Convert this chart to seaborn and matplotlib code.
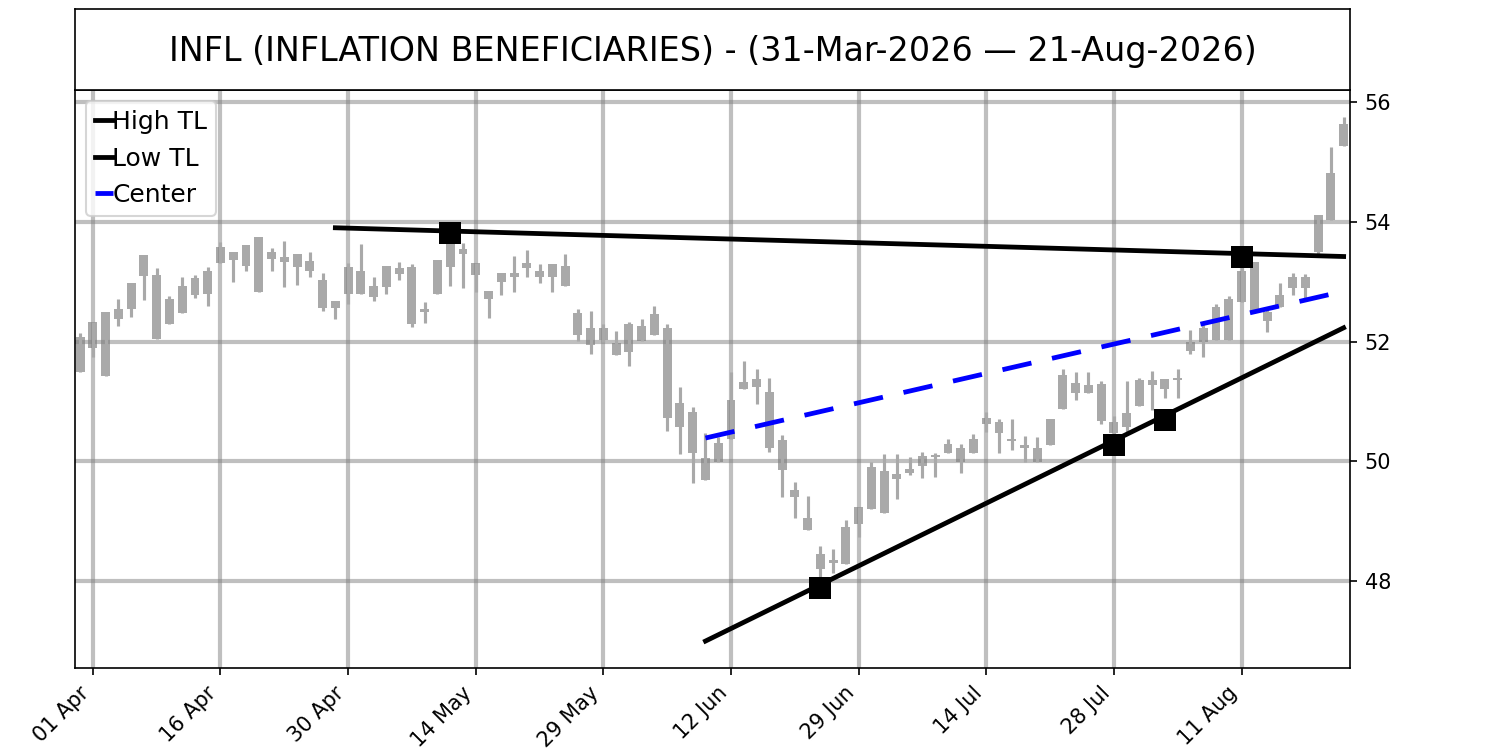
import matplotlib
matplotlib.use("Agg")
import matplotlib.pyplot as plt
import seaborn as sns
import pandas as pd

# trading days 31-Mar-2026 .. 21-Aug-2026 (NYSE holidays skipped)
holidays = ["2026-04-03", "2026-05-25", "2026-06-19", "2026-07-03"]
dates = pd.bdate_range("2026-03-31", "2026-08-21", freq="C", holidays=holidays)

# candles (up and down candles share one colour,
# so only the body top / bottom are kept)
highs = [52.14, 52.32, 52.50, 52.71, 52.97, 53.44, 53.22, 52.76, 53.07, 53.11,
         53.24, 53.67, 53.49, 53.62, 53.74, 53.57, 53.68, 53.46, 53.49, 53.14,
         52.68, 53.32, 53.63, 53.07, 53.26, 53.33, 53.29, 52.66, 53.36, 53.85,
         53.64, 53.32, 52.84, 53.15, 53.43, 53.53, 53.29, 53.29, 53.47, 52.55,
         52.51, 52.29, 52.18, 52.33, 52.37, 52.59, 52.30, 51.24, 50.90, 50.48,
         50.41, 51.50, 51.67, 51.54, 51.39, 50.44, 49.66, 49.42, 48.58, 48.53,
         49.02, 49.24, 49.99, 50.13, 50.13, 50.08, 50.15, 50.14, 50.38, 50.29,
         50.46, 50.83, 50.70, 50.70, 50.42, 50.40, 50.70, 51.54, 51.50, 51.50,
         51.34, 50.76, 51.34, 51.39, 51.51, 51.37, 51.55, 52.19, 52.30, 52.62,
         52.76, 53.45, 53.33, 52.53, 52.97, 53.14, 53.12, 54.11, 55.25, 55.75]
body_top = [52.07, 52.32, 52.50, 52.55, 52.97, 53.44, 53.11, 52.71, 52.93, 53.06,
            53.17, 53.58, 53.49, 53.62, 53.74, 53.49, 53.42, 53.46, 53.34, 53.03,
            52.68, 53.25, 53.17, 52.92, 53.26, 53.22, 53.25, 52.55, 53.36, 53.64,
            53.55, 53.32, 52.84, 53.15, 53.15, 53.32, 53.17, 53.29, 53.26, 52.48,
            52.23, 52.23, 51.97, 52.30, 52.26, 52.46, 52.22, 50.97, 50.82, 50.05,
            50.31, 51.02, 51.33, 51.38, 51.16, 50.35, 49.52, 49.05, 48.46, 48.35,
            48.91, 49.24, 49.90, 49.84, 49.79, 49.88, 50.09, 50.10, 50.29, 50.22,
            50.38, 50.72, 50.66, 50.38, 50.27, 50.22, 50.70, 51.44, 51.31, 51.27,
            51.29, 50.66, 50.81, 51.36, 51.36, 51.37, 51.40, 52.00, 52.23, 52.58,
            52.71, 53.17, 53.33, 52.49, 52.77, 53.08, 53.08, 54.11, 54.81, 55.64]
body_bottom = [51.50, 51.89, 51.43, 52.37, 52.54, 53.10, 52.05, 52.30, 52.47, 52.78,
               52.79, 53.32, 53.37, 53.27, 52.83, 53.38, 53.33, 53.25, 53.17, 52.56,
               52.56, 52.79, 52.80, 52.75, 52.91, 53.12, 52.29, 52.49, 52.80, 53.25,
               53.46, 53.11, 52.71, 53.00, 53.08, 53.22, 53.08, 53.08, 52.93, 52.11,
               51.94, 52.03, 51.77, 51.83, 52.01, 52.11, 50.73, 50.57, 50.14, 49.69,
               49.99, 50.37, 51.20, 51.24, 50.23, 49.85, 49.41, 48.86, 48.21, 48.30,
               48.28, 48.96, 49.20, 49.14, 49.70, 49.80, 49.92, 50.08, 50.14, 49.99,
               50.14, 50.63, 50.47, 50.34, 50.23, 49.99, 50.27, 50.88, 51.14, 51.14,
               50.68, 50.47, 50.58, 50.92, 51.27, 51.21, 51.36, 51.84, 52.00, 52.03,
               52.03, 52.66, 52.51, 52.34, 52.58, 52.89, 52.89, 53.50, 54.03, 55.27]
lows = [51.50, 51.75, 51.43, 52.26, 52.41, 52.69, 52.05, 52.30, 52.47, 52.72,
        52.59, 53.32, 53.00, 53.18, 52.83, 53.18, 52.91, 52.94, 53.07, 52.51,
        52.37, 52.63, 52.80, 52.68, 52.80, 53.03, 52.24, 52.31, 52.80, 52.93,
        52.90, 52.83, 52.39, 52.78, 52.83, 53.08, 52.98, 52.83, 52.93, 52.01,
        51.79, 52.00, 51.77, 51.59, 52.01, 52.11, 50.51, 50.12, 49.64, 49.69,
        49.99, 50.37, 51.20, 50.96, 50.16, 49.41, 49.06, 48.86, 47.95, 48.13,
        48.28, 48.74, 49.20, 49.14, 49.38, 49.78, 49.73, 49.74, 50.14, 49.81,
        50.14, 50.49, 50.14, 50.19, 49.99, 49.99, 50.27, 50.88, 51.02, 51.14,
        50.62, 50.30, 50.45, 50.92, 50.86, 51.05, 51.05, 51.79, 51.75, 52.03,
        52.03, 52.66, 52.47, 52.16, 52.58, 52.78, 52.69, 53.45, 54.03, 55.27]

# trend lines (bar index, price)
high_tl_x = [20, 99]
high_tl_y = [53.90, 53.42]
low_tl_x = [49, 99]
low_tl_y = [47.00, 52.23]
center_x = [49, 99]
center_y = [50.39, 52.84]
high_pts_x = [29, 91]
high_pts_y = [53.81, 53.41]
low_pts_x = [58, 81, 85]
low_pts_y = [47.88, 50.27, 50.69]

title = "INFL (INFLATION BENEFICIARIES) - (31-Mar-2026 \u2014 21-Aug-2026)"

df = pd.DataFrame({"high": highs, "top": body_top, "bottom": body_bottom, "low": lows})
df["idx"] = range(len(df))

fig = plt.figure(figsize=(10, 5), dpi=150)
ax = fig.add_axes([0.05, 0.1093, 0.85, 0.7707])
tax = fig.add_axes([0.05, 0.88, 0.85, 0.108])

candle_color = "darkgray"
ax.bar(df["idx"], df["top"] - df["bottom"], bottom=df["bottom"], width=0.7,
       color=candle_color, zorder=1)
ax.vlines(df["idx"], df["low"], df["high"], color=candle_color, linewidth=1.5, zorder=2)

sns.lineplot(x=high_tl_x, y=high_tl_y, ax=ax, color="black", linewidth=2.3, label="High TL")
sns.lineplot(x=low_tl_x, y=low_tl_y, ax=ax, color="black", linewidth=2.3, label="Low TL")
sns.lineplot(x=center_x, y=center_y, ax=ax, color="blue", linewidth=2.3,
             linestyle=(0, (6.2, 4.4)), label="Center")
sns.scatterplot(x=high_pts_x + low_pts_x, y=high_pts_y + low_pts_y, ax=ax,
                marker="s", s=110, color="black", linewidth=0, zorder=4, legend=False)

ticks = list(range(1, len(dates), 10))
ax.set_xticks(ticks)
ax.set_xticklabels([dates[i].strftime("%d %b") for i in ticks], rotation=45, ha="right")
ax.set_xlim(-0.4, 99.5)
ax.set_ylim(46.55, 56.2)
ax.set_yticks([48, 50, 52, 54, 56])
ax.yaxis.tick_right()
ax.grid(True, color="gray", alpha=0.5, linewidth=2.0)
ax.set_xlabel("")
ax.set_ylabel("")

ax.legend(loc="upper left", fontsize=12, handlelength=0.7, handletextpad=0.0,
          borderpad=0.35, labelspacing=0.5, borderaxespad=0.45)

tax.set_xticks([])
tax.set_yticks([])
tax.text(0.5, 0.48, title, ha="center", va="center", fontsize=16, transform=tax.transAxes)

fig.savefig("out.png", dpi=150)
